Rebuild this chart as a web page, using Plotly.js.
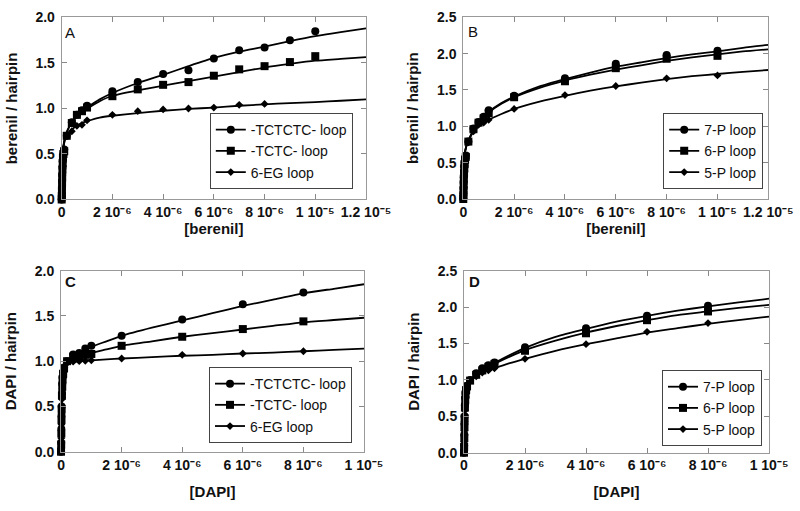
<!DOCTYPE html>
<html>
<head>
<meta charset="utf-8">
<script src="https://cdn.plot.ly/plotly-3.0.1.min.js"></script>
<style>html,body{margin:0;padding:0;background:#fff;}#chart{width:800px;height:511px;}</style>
</head>
<body>
<div id="chart"></div>
<script>
// ---------- Tick labels ----------
const xTickValsBerenil = [0, 2e-6, 4e-6, 6e-6, 8e-6, 1e-5, 1.2e-5];
const xTickTextBerenil = ["0", "2 10\u207B\u2076", "4 10\u207B\u2076", "6 10\u207B\u2076", "8 10\u207B\u2076", "1 10\u207B\u2075", "1.2 10\u207B\u2075"];
const xTickValsDAPI = [0, 2e-6, 4e-6, 6e-6, 8e-6, 1e-5];
const xTickTextDAPI = ["0", "2 10\u207B\u2076", "4 10\u207B\u2076", "6 10\u207B\u2076", "8 10\u207B\u2076", "1 10\u207B\u2075"];
const yTickVals20 = [0, 0.5, 1.0, 1.5, 2.0];
const yTickText20 = ["0.0", "0.5", "1.0", "1.5", "2.0"];
const yTickVals25 = [0, 0.5, 1.0, 1.5, 2.0, 2.5];
const yTickText25 = ["0.0", "0.5", "1.0", "1.5", "2.0", "2.5"];

// ---------- Series names ----------
const namesAC = ["-TCTCTC- loop", "-TCTC- loop", "6-EG loop"];
const namesBD = ["7-P loop", "6-P loop", "5-P loop"];

// ---------- Panel A (berenil) data points ----------
const aX1 = [0, 5e-9, 1e-8, 1.5e-8, 2e-8, 3e-8, 4e-8, 5e-8, 7e-8, 1e-7, 2e-7, 4e-7, 6e-7, 8e-7, 1e-6, 2e-6, 3e-6, 4e-6, 5e-6, 6e-6, 7e-6, 8e-6, 9e-6, 1e-5];
const aY1 = [0, 0.05, 0.12, 0.2, 0.27, 0.35, 0.42, 0.48, 0.52, 0.55, 0.70, 0.85, 0.93, 0.98, 1.03, 1.19, 1.29, 1.38, 1.42, 1.55, 1.64, 1.67, 1.75, 1.85];
const aX2 = [0, 5e-9, 1e-8, 1.5e-8, 2e-8, 3e-8, 4e-8, 5e-8, 7e-8, 1e-7, 2e-7, 4e-7, 6e-7, 8e-7, 1e-6, 2e-6, 3e-6, 4e-6, 5e-6, 6e-6, 7e-6, 8e-6, 9e-6, 1e-5];
const aY2 = [0, 0.04, 0.1, 0.18, 0.25, 0.33, 0.4, 0.46, 0.5, 0.53, 0.70, 0.84, 0.93, 0.97, 1.01, 1.135, 1.21, 1.26, 1.29, 1.36, 1.43, 1.465, 1.51, 1.575];
const aX3 = [0, 5e-9, 1e-8, 1.5e-8, 2e-8, 3e-8, 4e-8, 5e-8, 7e-8, 1e-7, 2e-7, 4e-7, 6e-7, 8e-7, 1e-6, 2e-6, 3e-6, 4e-6, 5e-6, 6e-6, 7e-6, 8e-6];
const aY3 = [0, 0.03, 0.08, 0.15, 0.22, 0.3, 0.37, 0.43, 0.48, 0.52, 0.70, 0.75, 0.81, 0.82, 0.87, 0.93, 0.97, 0.99, 1.0, 1.01, 1.04, 1.05];
// Panel A fitted curves
const aFitX = [0, 1e-8, 2e-8, 4e-8, 6e-8, 1e-7, 1.5e-7, 2e-7, 3e-7, 4e-7, 6e-7, 8e-7, 1e-6, 1.5e-6, 2e-6, 3e-6, 4e-6, 5e-6, 6e-6, 7e-6, 8e-6, 9e-6, 1e-5, 1.1e-5, 1.2e-5];
const aFit1 = [0, 0.2, 0.33, 0.48, 0.56, 0.64, 0.70, 0.74, 0.80, 0.85, 0.92, 0.97, 1.01, 1.10, 1.17, 1.28, 1.37, 1.465, 1.555, 1.625, 1.68, 1.74, 1.795, 1.84, 1.88];
const aFit2 = [0, 0.2, 0.33, 0.48, 0.56, 0.64, 0.70, 0.74, 0.80, 0.85, 0.92, 0.97, 1.00, 1.08, 1.14, 1.20, 1.25, 1.30, 1.35, 1.40, 1.45, 1.49, 1.525, 1.545, 1.565];
const aFit3 = [0, 0.2, 0.33, 0.47, 0.55, 0.62, 0.67, 0.70, 0.74, 0.77, 0.81, 0.84, 0.86, 0.90, 0.92, 0.95, 0.975, 0.995, 1.01, 1.03, 1.045, 1.06, 1.07, 1.085, 1.10];

// ---------- Panel B (berenil) data points ----------
const bX = [0, 5e-9, 1e-8, 1.5e-8, 2e-8, 3e-8, 4e-8, 5e-8, 7e-8, 1e-7, 2e-7, 4e-7, 6e-7, 8e-7, 1e-6, 2e-6, 4e-6, 6e-6, 8e-6, 1e-5];
const bY1 = [0, 0.06, 0.14, 0.22, 0.3, 0.38, 0.45, 0.5, 0.56, 0.6, 0.79, 0.97, 1.06, 1.13, 1.22, 1.42, 1.66, 1.86, 1.98, 2.04];
const bY2 = [0, 0.05, 0.12, 0.2, 0.28, 0.35, 0.42, 0.48, 0.54, 0.58, 0.79, 0.96, 1.05, 1.11, 1.18, 1.40, 1.62, 1.80, 1.93, 1.97];
const bY3 = [0, 0.04, 0.1, 0.17, 0.25, 0.32, 0.4, 0.46, 0.52, 0.56, 0.78, 0.93, 1.02, 1.05, 1.09, 1.24, 1.43, 1.555, 1.66, 1.70];
const bFitX = [0, 1e-8, 2e-8, 4e-8, 6e-8, 1e-7, 1.5e-7, 2e-7, 3e-7, 4e-7, 6e-7, 8e-7, 1e-6, 1.5e-6, 2e-6, 3e-6, 4e-6, 5e-6, 6e-6, 7e-6, 8e-6, 9e-6, 1e-5, 1.1e-5, 1.2e-5];
const bFit1 = [0, 0.25, 0.40, 0.55, 0.63, 0.70, 0.76, 0.80, 0.88, 0.95, 1.05, 1.13, 1.20, 1.32, 1.41, 1.55, 1.65, 1.74, 1.82, 1.88, 1.94, 1.99, 2.03, 2.08, 2.12];
const bFit2 = [0, 0.25, 0.40, 0.55, 0.63, 0.70, 0.76, 0.80, 0.88, 0.95, 1.05, 1.12, 1.19, 1.31, 1.40, 1.53, 1.63, 1.71, 1.78, 1.84, 1.90, 1.95, 1.99, 2.03, 2.06];
const bFit3 = [0, 0.25, 0.40, 0.55, 0.63, 0.70, 0.76, 0.80, 0.87, 0.92, 1.00, 1.05, 1.09, 1.17, 1.24, 1.34, 1.42, 1.49, 1.55, 1.60, 1.65, 1.69, 1.72, 1.75, 1.775];

// ---------- Panel C (DAPI) data points ----------
const cX = [0, 5e-9, 1e-8, 1.5e-8, 2e-8, 3e-8, 4e-8, 5e-8, 7e-8, 1e-7, 2e-7, 4e-7, 6e-7, 8e-7, 1e-6, 2e-6, 4e-6, 6e-6, 8e-6];
const cY1 = [0, 0.1, 0.25, 0.4, 0.5, 0.65, 0.75, 0.82, 0.88, 0.93, 1.0, 1.075, 1.09, 1.14, 1.17, 1.28, 1.46, 1.63, 1.76];
const cY2 = [0, 0.08, 0.2, 0.35, 0.47, 0.62, 0.72, 0.8, 0.86, 0.92, 1.0, 1.05, 1.05, 1.07, 1.08, 1.17, 1.27, 1.355, 1.44];
const cY3 = [0, 0.05, 0.15, 0.3, 0.42, 0.58, 0.68, 0.77, 0.84, 0.9, 0.98, 0.995, 1.0, 1.005, 1.01, 1.03, 1.07, 1.085, 1.11];
const cFitX = [0, 1e-8, 2e-8, 4e-8, 6e-8, 1e-7, 1.5e-7, 2e-7, 3e-7, 4e-7, 6e-7, 8e-7, 1e-6, 1.5e-6, 2e-6, 3e-6, 4e-6, 5e-6, 6e-6, 7e-6, 8e-6, 9e-6, 1e-5];
const cFit1 = [0, 0.35, 0.55, 0.75, 0.85, 0.94, 0.98, 1.00, 1.03, 1.06, 1.10, 1.13, 1.16, 1.22, 1.28, 1.37, 1.45, 1.53, 1.61, 1.68, 1.75, 1.80, 1.85];
const cFit2 = [0, 0.35, 0.55, 0.75, 0.85, 0.94, 0.98, 1.00, 1.02, 1.04, 1.06, 1.08, 1.09, 1.13, 1.17, 1.22, 1.27, 1.31, 1.35, 1.39, 1.43, 1.455, 1.48];
const cFit3 = [0, 0.35, 0.55, 0.74, 0.84, 0.92, 0.96, 0.98, 0.99, 0.995, 1.0, 1.005, 1.01, 1.02, 1.03, 1.045, 1.06, 1.07, 1.085, 1.095, 1.11, 1.125, 1.14];

// ---------- Panel D (DAPI) data points ----------
const dX = [0, 5e-9, 1e-8, 1.5e-8, 2e-8, 3e-8, 4e-8, 5e-8, 7e-8, 1e-7, 2e-7, 4e-7, 6e-7, 8e-7, 1e-6, 2e-6, 4e-6, 6e-6, 8e-6];
const dY1 = [0, 0.1, 0.25, 0.4, 0.5, 0.65, 0.75, 0.82, 0.88, 0.92, 1.0, 1.09, 1.16, 1.20, 1.24, 1.45, 1.71, 1.88, 2.02];
const dY2 = [0, 0.08, 0.2, 0.35, 0.47, 0.62, 0.72, 0.8, 0.86, 0.91, 0.99, 1.07, 1.13, 1.18, 1.22, 1.40, 1.64, 1.82, 1.94];
const dY3 = [0, 0.05, 0.15, 0.3, 0.42, 0.58, 0.68, 0.77, 0.84, 0.9, 0.99, 1.05, 1.10, 1.13, 1.16, 1.29, 1.49, 1.66, 1.78];
const dFitX = [0, 1e-8, 2e-8, 4e-8, 6e-8, 1e-7, 1.5e-7, 2e-7, 3e-7, 4e-7, 6e-7, 8e-7, 1e-6, 1.5e-6, 2e-6, 3e-6, 4e-6, 5e-6, 6e-6, 7e-6, 8e-6, 9e-6, 1e-5];
const dFit1 = [0, 0.35, 0.55, 0.75, 0.85, 0.92, 0.96, 0.99, 1.03, 1.07, 1.13, 1.18, 1.23, 1.34, 1.44, 1.59, 1.70, 1.80, 1.88, 1.95, 2.01, 2.065, 2.115];
const dFit2 = [0, 0.35, 0.55, 0.75, 0.85, 0.92, 0.96, 0.99, 1.03, 1.07, 1.12, 1.17, 1.22, 1.32, 1.41, 1.54, 1.65, 1.74, 1.82, 1.89, 1.94, 1.99, 2.03];
const dFit3 = [0, 0.35, 0.55, 0.75, 0.85, 0.92, 0.95, 0.98, 1.02, 1.05, 1.10, 1.13, 1.16, 1.23, 1.29, 1.40, 1.49, 1.57, 1.65, 1.71, 1.77, 1.82, 1.87];

// ---------- Build traces ----------
const symbols = ["circle", "square", "diamond"];
const sizes = [8, 8, 6];
const traces = [];
function addPanel(ax, legendId, names, ptsX, ptsY, fitX, fitY) {
  for (let i = 0; i < 3; i++) {
    traces.push({
      x: fitX, y: fitY[i], xaxis: "x" + ax, yaxis: "y" + ax,
      mode: "lines", line: {color: "#000", width: 1.8, shape: "spline", smoothing: 0.6},
      showlegend: false, hoverinfo: "skip", cliponaxis: false
    });
    traces.push({
      x: ptsX[i], y: ptsY[i], xaxis: "x" + ax, yaxis: "y" + ax,
      mode: "markers", marker: {symbol: symbols[i], size: sizes[i], color: "#000"},
      showlegend: false, cliponaxis: false, name: names[i]
    });
    // legend entry (line + marker symbol)
    traces.push({
      x: [null], y: [null], xaxis: "x" + ax, yaxis: "y" + ax,
      mode: "lines+markers", name: names[i], legend: legendId,
      line: {color: "#000", width: 1.8},
      marker: {symbol: symbols[i], size: sizes[i], color: "#000"}
    });
  }
}
addPanel("", "legend", namesAC, [aX1, aX2, aX3], [aY1, aY2, aY3], aFitX, [aFit1, aFit2, aFit3]);
addPanel("2", "legend2", namesBD, [bX, bX, bX], [bY1, bY2, bY3], bFitX, [bFit1, bFit2, bFit3]);
addPanel("3", "legend3", namesAC, [cX, cX, cX], [cY1, cY2, cY3], cFitX, [cFit1, cFit2, cFit3]);
addPanel("4", "legend4", namesBD, [dX, dX, dX], [dY1, dY2, dY3], dFitX, [dFit1, dFit2, dFit3]);

// ---------- Layout ----------
const FONT = "'Liberation Sans', Arial, sans-serif";
const tickFont = {family: FONT, size: 14, color: "#111", weight: "bold"};
const titleFont = {family: FONT, size: 15, color: "#111", weight: "bold"};
function xAxis(domain, anchor, range, vals, text, title, standoff) {
  return {
    domain: domain, anchor: anchor, range: range, tickmode: "array", tickvals: vals, ticktext: text,
    ticks: "inside", ticklen: 5, tickcolor: "#888", mirror: "allticks", showline: true,
    linecolor: "#999", linewidth: 1, showgrid: false, zeroline: false, tickfont: tickFont,
    title: {text: title, font: titleFont, standoff: standoff}, automargin: false, fixedrange: true
  };
}
function yAxis(domain, anchor, range, vals, text, title) {
  return {
    domain: domain, anchor: anchor, range: range, tickmode: "array", tickvals: vals, ticktext: text,
    ticks: "inside", ticklen: 5, tickcolor: "#888", mirror: "allticks", showline: true,
    linecolor: "#999", linewidth: 1, showgrid: false, zeroline: false, tickfont: tickFont,
    ticklabelstandoff: 3,
    title: {text: title, font: titleFont, standoff: 14}, automargin: false, fixedrange: true
  };
}
const legendBase = {
  font: {family: FONT, size: 14, color: "#111"}, bgcolor: "#fff", bordercolor: "#444",
  borderwidth: 1, xanchor: "right", yanchor: "bottom", tracegroupgap: 0, itemwidth: 30
};
const letterFont = {family: FONT, size: 15, color: "#111"};
const layout = {
  width: 800, height: 511, margin: {l: 0, r: 0, t: 0, b: 0},
  paper_bgcolor: "#fff", plot_bgcolor: "#fff", showlegend: true,
  font: {family: FONT},
  xaxis: xAxis([0.0771, 0.4575], "y", [0, 1.2e-5], xTickValsBerenil, xTickTextBerenil, "[berenil]", 4),
  yaxis: yAxis([0.6096, 0.9658], "x", [0, 2.0], yTickVals20, yTickText20, "berenil / hairpin"),
  xaxis2: xAxis([0.5791, 0.9604], "y2", [0, 1.2e-5], xTickValsBerenil, xTickTextBerenil, "[berenil]", 4),
  yaxis2: yAxis([0.6106, 0.9661], "x2", [0, 2.5], yTickVals25, yTickText25, "berenil / hairpin"),
  xaxis3: xAxis([0.0763, 0.455], "y3", [0, 1e-5], xTickValsDAPI, xTickTextDAPI, "[DAPI]", 14),
  yaxis3: yAxis([0.1160, 0.4703], "x3", [0, 2.0], yTickVals20, yTickText20, "DAPI / hairpin"),
  xaxis4: xAxis([0.58, 0.9613], "y4", [0, 1e-5], xTickValsDAPI, xTickTextDAPI, "[DAPI]", 14),
  yaxis4: yAxis([0.1141, 0.4703], "x4", [0, 2.5], yTickVals25, yTickText25, "DAPI / hairpin"),
  legend: Object.assign({}, legendBase, {x: 0.441, y: 0.630}),
  legend2: Object.assign({}, legendBase, {x: 0.954, y: 0.630}),
  legend3: Object.assign({}, legendBase, {x: 0.44, y: 0.133}),
  legend4: Object.assign({}, legendBase, {x: 0.9525, y: 0.127}),
  annotations: [
    {text: "A", xref: "paper", yref: "paper", x: 70 / 800, y: 1 - 33 / 511, xanchor: "center", yanchor: "middle", showarrow: false, font: letterFont},
    {text: "B", xref: "paper", yref: "paper", x: 473 / 800, y: 1 - 31 / 511, xanchor: "center", yanchor: "middle", showarrow: false, font: letterFont},
    {text: "C", xref: "paper", yref: "paper", x: 70 / 800, y: 1 - 281 / 511, xanchor: "center", yanchor: "middle", showarrow: false, font: Object.assign({}, letterFont, {weight: "bold"})},
    {text: "D", xref: "paper", yref: "paper", x: 474 / 800, y: 1 - 281 / 511, xanchor: "center", yanchor: "middle", showarrow: false, font: Object.assign({}, letterFont, {weight: "bold"})}
  ]
};
Plotly.newPlot("chart", traces, layout, {displayModeBar: false, staticPlot: true});
</script>
</body>
</html>
